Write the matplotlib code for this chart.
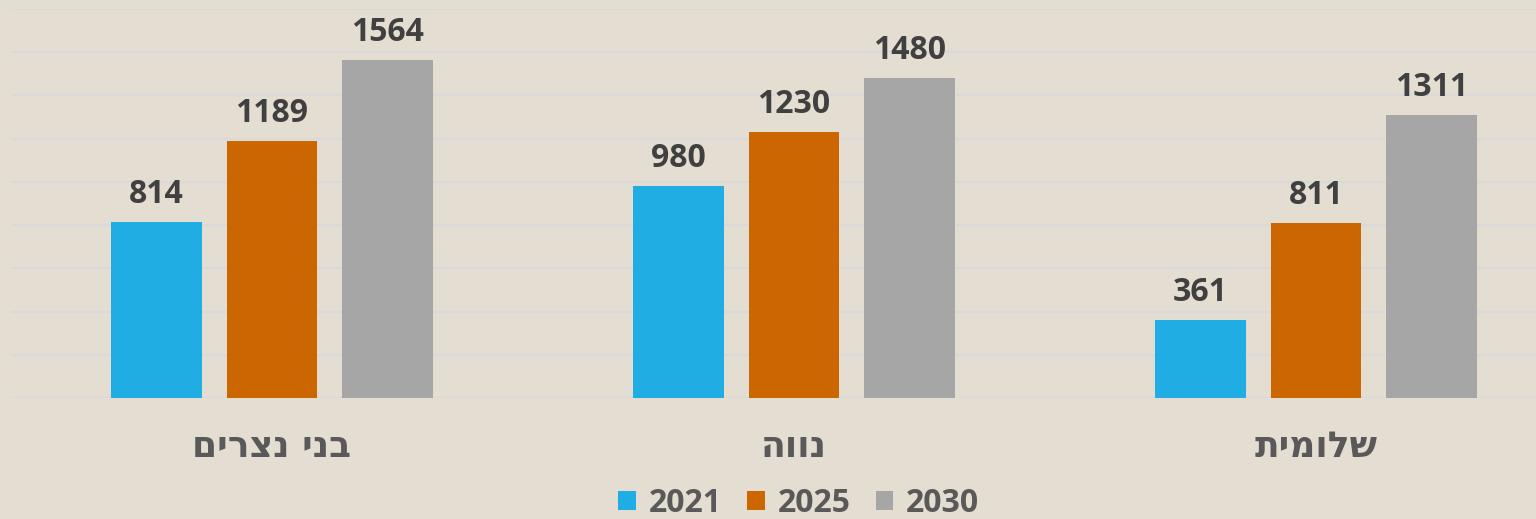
import matplotlib.pyplot as plt
import numpy as np

plt.rcParams['font.family'] = ['Open Sans', 'DejaVu Sans']

# categories (left to right as shown), Hebrew written in visual order for matplotlib
categories = ['בני נצרים', 'נווה', 'שלומית']
years = ['2021', '2025', '2030']
vals_2021 = [814, 980, 361]
vals_2025 = [1189, 1230, 811]
vals_2030 = [1564, 1480, 1311]
colors = ['#1FADE4', '#CC6600', '#A6A6A6']

bg = '#E3DDD2'
fig = plt.figure(figsize=(15.36, 5.19), dpi=100, facecolor=bg)
ax = fig.add_axes([11 / 1536, 121 / 519, 1566 / 1536, 389 / 519], facecolor=bg)

x = np.arange(len(categories))
width = 0.174
step = 0.221
series = [vals_2021, vals_2025, vals_2030]
for i, (vals, c, lab) in enumerate(zip(series, colors, years)):
    bars = ax.bar(x + (i - 1) * step, vals, width, color=c, label=lab, zorder=3)
    for b, v in zip(bars, vals):
        ax.annotate(str(v), (b.get_x() + b.get_width() / 2, v),
                    xytext=(0, 8), textcoords='offset points',
                    ha='center', va='bottom', fontsize=23, fontweight='bold',
                    color='#404040')

ax.set_xlim(-0.5, len(categories) - 0.5)
ax.set_ylim(0, 1800)
ax.set_yticks(np.arange(0, 1801, 200))
ax.yaxis.grid(True, color='#D9D9D9', linewidth=1.5, zorder=0)
ax.tick_params(left=False, bottom=False, labelleft=False, labelbottom=False)
for s in ax.spines.values():
    s.set_visible(False)

for xi, name in zip(x, categories):
    ax.text(xi, -0.126, name[::-1], transform=ax.get_xaxis_transform(),
            ha='center', va='center', fontsize=26, fontweight='bold',
            color='#595959', family=['DejaVu Sans'])

leg = fig.legend(loc='center', bbox_to_anchor=(0.52, 0.03), ncol=3,
                 frameon=False, handlelength=0.55, handleheight=0.55,
                 handletextpad=0.4, columnspacing=0.8,
                 prop={'size': 23, 'weight': 'bold'})
for t in leg.get_texts():
    t.set_color('#595959')

fig.savefig('out.png', facecolor=bg)
